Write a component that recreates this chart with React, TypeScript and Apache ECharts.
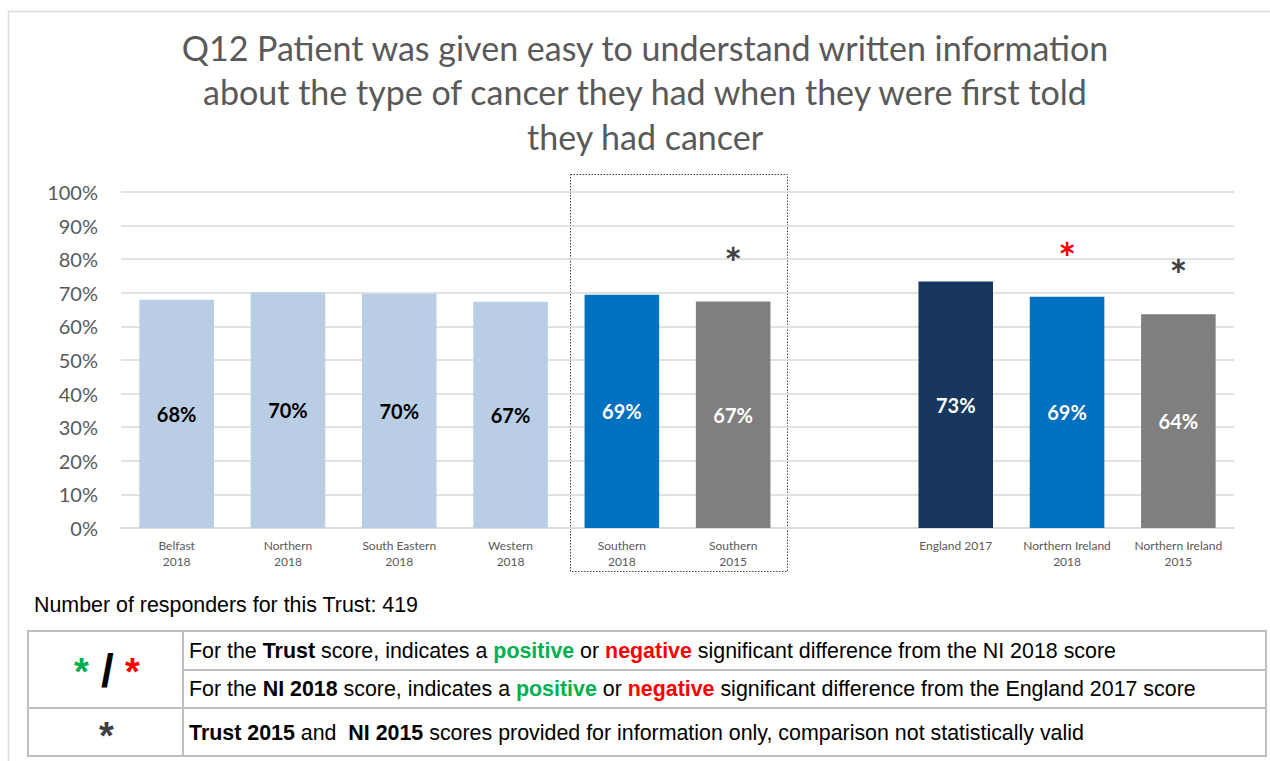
import React, { useEffect, useRef } from "react";
import * as echarts from "echarts";

const titleLines = [
  "Q12 Patient was given easy to understand written information",
  "about the type of cancer they had when they were first told",
  "they had cancer",
];
const categories = [
  "Belfast\n2018",
  "Northern\n2018",
  "South Eastern\n2018",
  "Western\n2018",
  "Southern\n2018",
  "Southern\n2015",
  "",
  "England 2017",
  "Northern Ireland\n2018",
  "Northern Ireland\n2015",
];
const values: (number | null)[] = [67.9, 70.2, 69.7, 67.3, 69.4, 67.4, null, 73.4, 68.8, 63.6];
const barColors = ["#B9CDE5", "#B9CDE5", "#B9CDE5", "#B9CDE5", "#0070C0", "#7F7F7F", "#ffffff", "#17375E", "#0070C0", "#7F7F7F"];
const labelColors = ["#000000", "#000000", "#000000", "#000000", "#ffffff", "#ffffff", "#ffffff", "#ffffff", "#ffffff", "#ffffff"];
// significance marker above each bar: "" none, "grey" info-only, "red" negative
const markers = ["", "", "", "", "", "grey", "", "", "red", "grey"];
const yTicks = { min: 0, max: 100, interval: 10 };
const responders = "Number of responders for this Trust: 419";
const legendRows = [
  "For the {b|Trust} score, indicates a {g|positive} or {r|negative} significant difference from the NI 2018 score",
  "For the {b|NI 2018} score, indicates a {g|positive} or {r|negative} significant difference from the England 2017 score",
  "{b|Trust 2015} and  {b|NI 2015} scores provided for information only, comparison not statistically valid",
];

const markerColor: Record<string, string> = { grey: "#404040", red: "#FF0000", green: "#00B050" };

export default function App() {
  const ref = useRef<HTMLDivElement>(null);
  useEffect(() => {
    const chart = echarts.init(ref.current!, undefined, { renderer: "svg" });
    const grey = "#595959";
    const lineCol = "#D9D9D9";
    const tblCol = "#BFBFBF";
    const fs = 21.4;
    const richLegend = {
      b: { fontWeight: "bold", fontSize: fs, fontFamily: "Liberation Sans", fill: "#000" },
      g: { fontWeight: "bold", fontSize: fs, fontFamily: "Liberation Sans", fill: "#00B050" },
      r: { fontWeight: "bold", fontSize: fs, fontFamily: "Liberation Sans", fill: "#FF0000" },
    };
    const rowY = [650.5, 689, 733];
    chart.setOption({
      animation: false,
      grid: { left: 121, right: 36, top: 192, bottom: 233, containLabel: false },
      xAxis: {
        type: "category",
        data: categories,
        axisTick: { show: false },
        axisLine: { show: true, lineStyle: { color: lineCol, width: 1.5 } },
        axisLabel: {
          interval: 0,
          color: grey,
          fontSize: 12,
          fontFamily: "Lato",
          lineHeight: 16,
          margin: 9,
        },
      },
      yAxis: {
        type: "value",
        min: yTicks.min,
        max: yTicks.max,
        interval: yTicks.interval,
        axisLine: { show: false },
        axisTick: { show: false },
        splitLine: { lineStyle: { color: lineCol, width: 1.5 } },
        axisLabel: {
          formatter: "{value}%",
          color: grey,
          fontSize: 20,
          fontFamily: "Lato",
          margin: 23,
        },
      },
      series: [
        {
          type: "bar",
          barWidth: "67%",
          data: values.map((v, i) => ({
            value: v,
            itemStyle: { color: barColors[i] },
            label: { color: labelColors[i] },
          })),
          label: {
            show: true,
            position: "inside",
            fontSize: 20,
            fontWeight: "bold",
            fontFamily: "Lato",
            formatter: (p: any) => (p.value == null ? "" : Math.round(p.value) + "%"),
          },
        },
        {
          type: "bar",
          barWidth: "67%",
          barGap: "-100%",
          silent: true,
          z: 1,
          data: values.map((v, i) => ({
            value: markers[i] ? v : null,
            itemStyle: { color: "rgba(0,0,0,0)" },
            label: { color: markerColor[markers[i]] || "#404040" },
          })),
          label: {
            show: true,
            position: "top",
            distance: 18,
            fontSize: 42,
            fontWeight: "bold",
            fontFamily: "Lato",
            formatter: (p: any) => (p.value == null ? "" : "*"),
          },
        },
      ],
      graphic: [
        { type: "line", shape: { x1: 8, y1: 11.5, x2: 1270, y2: 11.5 }, style: { stroke: lineCol, lineWidth: 1.5 } },
        { type: "line", shape: { x1: 8.5, y1: 11, x2: 8.5, y2: 761 }, style: { stroke: lineCol, lineWidth: 1.5 } },
        ...titleLines.map((t, i) => ({
          type: "text",
          x: 645,
          y: 47 + i * 44.5,
          style: {
            text: t,
            fill: grey,
            fontFamily: "Lato",
            fontSize: 34,
            fontWeight: 400,
            align: "center",
            verticalAlign: "middle",
          },
        })),
        {
          type: "rect",
          shape: { x: 570.5, y: 174.5, width: 217, height: 397 },
          style: { fill: "none", stroke: "#404040", lineWidth: 1, lineDash: [1.5, 1.5] },
        },
        {
          type: "text",
          x: 34,
          y: 605,
          style: { text: responders, fill: "#000", fontSize: fs, fontFamily: "Liberation Sans", verticalAlign: "middle" },
        },
        { type: "rect", shape: { x: 28, y: 631, width: 1238, height: 125 }, style: { fill: "none", stroke: tblCol, lineWidth: 2 } },
        { type: "line", shape: { x1: 183, y1: 631, x2: 183, y2: 756 }, style: { stroke: tblCol, lineWidth: 2 } },
        { type: "line", shape: { x1: 28, y1: 708, x2: 1266, y2: 708 }, style: { stroke: tblCol, lineWidth: 2 } },
        { type: "line", shape: { x1: 183, y1: 670, x2: 1266, y2: 670 }, style: { stroke: tblCol, lineWidth: 2 } },
        ...legendRows.map((t, i) => ({
          type: "text",
          x: 189,
          y: rowY[i],
          style: {
            text: t,
            fill: "#000",
            fontSize: fs,
            fontFamily: "Liberation Sans",
            verticalAlign: "middle",
            rich: richLegend,
          },
        })),
        {
          type: "text",
          x: 81.5,
          y: 672,
          style: { text: "*", fill: "#00B050", fontSize: 38, fontWeight: "bold", fontFamily: "Liberation Sans", align: "center", verticalAlign: "middle" },
        },
        {
          type: "text",
          x: 107.5,
          y: 671,
          style: { text: "/", fill: "#000", fontSize: 46, fontWeight: "bold", fontFamily: "Liberation Sans", align: "center", verticalAlign: "middle" },
        },
        {
          type: "text",
          x: 132.5,
          y: 672,
          style: { text: "*", fill: "#FF0000", fontSize: 38, fontWeight: "bold", fontFamily: "Liberation Sans", align: "center", verticalAlign: "middle" },
        },
        {
          type: "text",
          x: 106.5,
          y: 736,
          style: { text: "*", fill: "#404040", fontSize: 38, fontWeight: "bold", fontFamily: "Liberation Sans", align: "center", verticalAlign: "middle" },
        },
      ],
    });
    return () => chart.dispose();
  }, []);
  return (
    <div
      ref={ref}
      style={{ position: "absolute", left: 0, top: 0, width: 1270, height: 761, background: "#fff" }}
    />
  );
}
